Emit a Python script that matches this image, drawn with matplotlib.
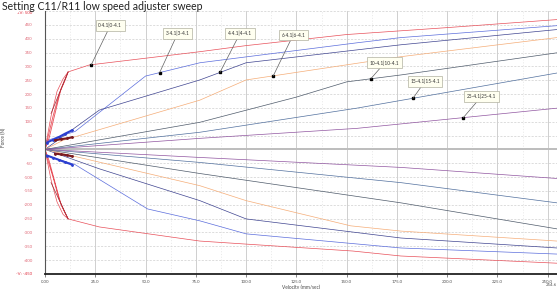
import numpy as np
import matplotlib
matplotlib.use("Agg")
import matplotlib.pyplot as plt

plt.rcParams['font.family'] = ['Lato', 'DejaVu Sans']

# rebound (positive) and compression (negative) curves per setting
settings = ["0-4.1|0-4.1", "3-4.1|3-4.1", "4-4.1|4-4.1", "6-4.1|6-4.1",
            "10-4.1|10-4.1", "15-4.1|15-4.1", "25-4.1|25-4.1"]
colors = ['#e8505a', '#5b6ddc', '#3f4490', '#f5ad78', '#4f5b6b', '#52709e', '#9055a0']

reb_x = [[0, 3, 6, 9, 11.5, 22, 77, 100, 150, 200, 254.6],
         [0, 15, 50, 77, 155, 177, 254.6],
         [0, 27, 77, 100, 177, 254.6],
         [0, 9, 77, 100, 177, 254.6],
         [0, 77, 125, 150, 177, 254.6],
         [0, 77, 155, 254.6],
         [0, 77, 155, 254.6]]
reb_y = [[0, 120, 210, 255, 280, 305, 353, 375, 415, 440, 469],
         [30, 65, 265, 313, 385, 404, 447],
         [0, 142, 251, 313, 378, 433],
         [0, 33, 178, 251, 335, 404],
         [0, 98, 189, 244, 269, 349],
         [0, 62, 149, 276],
         [0, 40, 76, 149]]

comp_x = [[0, 3, 6, 9, 11.5, 27, 77, 100, 153, 177, 254.6],
          [0, 15, 24, 51, 77, 100, 177, 254.6],
          [0, 27, 77, 100, 177, 254.6],
          [0, 77, 100, 152, 177, 254.6],
          [0, 77, 177, 254.6],
          [0, 77, 177, 254.6],
          [0, 77, 177, 254.6]]
comp_y = [[0, -110, -190, -235, -251, -280, -331, -342, -367, -385, -411],
          [-20, -55, -95, -215, -258, -305, -356, -378],
          [0, -70, -185, -251, -320, -356],
          [0, -131, -185, -276, -295, -331],
          [0, -87, -193, -287],
          [0, -47, -120, -193],
          [0, -29, -65, -105]]

# low speed hysteresis loops near the origin
loop_x = [[0, 2, 5, 8, 11.5, 10, 7, 4, 1, 0],
          [0, 2, 5, 8, 11.5, 10, 7, 4, 1, 0]]
loop_y = [[0, 40, 130, 220, 280, 250, 200, 120, 30, 0],
          [0, -40, -120, -200, -251, -230, -180, -100, -30, 0]]
slow_x = [[1, 4, 7, 10, 13.5], [5, 8, 11, 13.5],
          [1, 4, 7, 10, 13.5], [5, 8, 11, 13.5]]
slow_y = [[25, 35, 45, 57, 69], [33, 37, 40, 44],
          [-22, -30, -38, -46, -55], [-15, -18, -21, -25]]
slow_c = ['#2b3fd0', '#7a1a20', '#2b3fd0', '#7a1a20']

anchor_x = [23, 57, 87, 113.5, 162, 183, 208]
label_off = [(19, 39), (18, 39), (20, 39), (20, 41), (14, 16), (12, 17), (18, 21)]

xticks = np.arange(0, 251, 25)
xlabels = ["0.00"] + ["%.1f" % v for v in xticks[1:]]
yticks = np.arange(-400, 451, 50)

fig = plt.figure(figsize=(5.57, 2.89), dpi=100)
ax = fig.add_axes([45 / 557, 15 / 289, 1 - 45 / 557, 263 / 289])
ax.set_xlim(0, 254.6)
ax.set_ylim(-450, 500)

# grid
for v in xticks[1:]:
    ax.axvline(v, color='#c8c8c8', lw=0.6, zorder=0)
for v in np.arange(12.5, 254, 25):
    ax.axvline(v, color='#dcdcdc', lw=0.4, ls=(0, (2, 3)), zorder=0)
for v in yticks:
    ax.axhline(v, color='#cfcfcf', lw=0.5, ls=(0, (3, 2)), zorder=0)
ax.axhline(500, color='#cfcfcf', lw=0.5, ls=(0, (3, 2)), zorder=0)
ax.axhline(0, color='#bdbdbd', lw=1.4, zorder=0)

for i in range(len(settings)):
    ax.plot(reb_x[i], reb_y[i], color=colors[i], lw=0.5)
    ax.plot(comp_x[i], comp_y[i], color=colors[i], lw=0.5)

for lx, ly in zip(loop_x, loop_y):
    ax.plot(lx, ly, color='#e8505a', lw=0.6)
ax.plot([3, 11.5], [130, 280], color='#9a2a35', lw=0.5)
ax.plot([3, 11.5], [-120, -251], color='#9a2a35', lw=0.5)
for sx, sy, c in zip(slow_x, slow_y, slow_c):
    ax.plot(sx, sy, color=c, lw=1.5, marker='.', ms=2)

for i, name in enumerate(settings):
    ay = np.interp(anchor_x[i], reb_x[i], reb_y[i])
    ax.plot(anchor_x[i], ay, 's', color='black', ms=1.8)
    ax.annotate(name, xy=(anchor_x[i], ay), xytext=label_off[i],
                textcoords='offset pixels', ha='center', va='center',
                fontsize=3.4, color='#333333',
                bbox=dict(boxstyle='square,pad=0.55', fc='#fffff0', ec='#b0b0a0', lw=0.5),
                arrowprops=dict(arrowstyle='-', color='#606060', lw=0.5,
                                shrinkA=0, shrinkB=0))

ax.set_xticks(xticks)
ax.set_xticklabels(xlabels)
ax.set_yticks(yticks)
ax.set_yticklabels(["%d" % v for v in yticks])
ax.tick_params(axis='x', labelsize=3.2, length=2, width=0.5, pad=2, colors='#555555')
ax.tick_params(axis='y', labelsize=3.2, length=0, pad=9, labelcolor='#e06a78')
for s in ['top', 'right']:
    ax.spines[s].set_visible(False)
ax.spines['left'].set_color('#555555')
ax.spines['left'].set_linewidth(0.8)
ax.spines['bottom'].set_color('#222222')
ax.spines['bottom'].set_linewidth(1.3)

ax.text(-0.025, 500, "+V: 500", transform=ax.get_yaxis_transform(), ha='right',
        va='top', fontsize=3.2, color='#e03040')
ax.text(-0.025, -450, "-V: -450", transform=ax.get_yaxis_transform(), ha='right',
        va='center', fontsize=3.2, color='#e03040')
ax.text(254.6, -0.035, "254.6", transform=ax.get_xaxis_transform(), ha='right',
        va='top', fontsize=3.2, color='#555555')

ax.set_xlabel("Velocity (mm/sec)", fontsize=3.4, labelpad=1, color='#444444')
ax.set_ylabel("Force (N)", fontsize=3.4, color='#444444')
ax.yaxis.set_label_coords(-0.075, 0.52)

fig.text(2 / 557, 1 - 0.5 / 289, "Setting C11/R11 low speed adjuster sweep",
         fontsize=7.6, ha='left', va='top', color='#222222')

fig.savefig("out.png", dpi=100)
